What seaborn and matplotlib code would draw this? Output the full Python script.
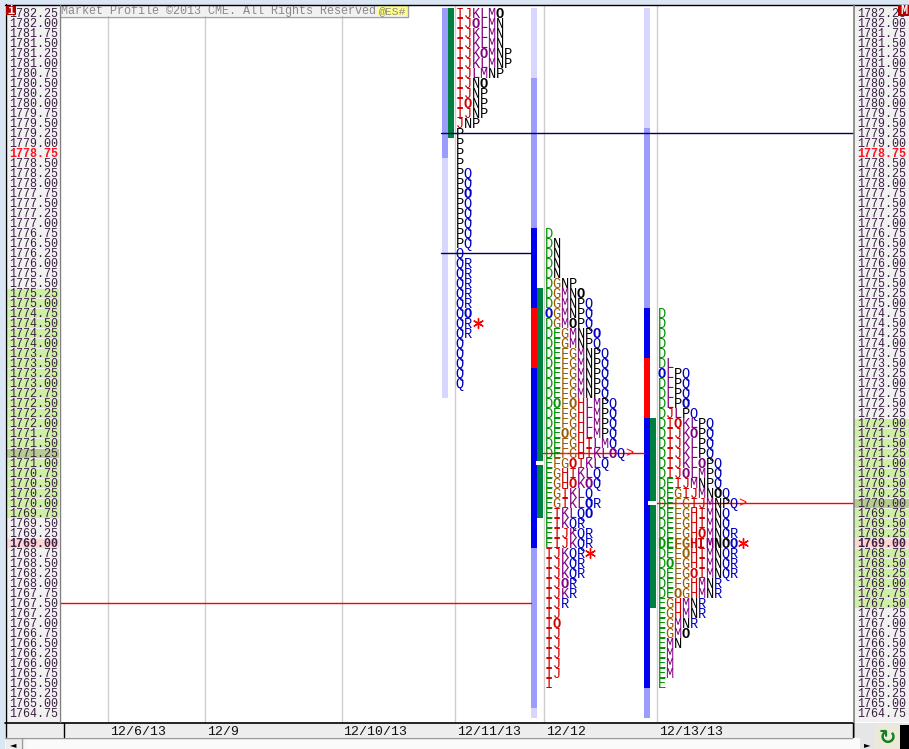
import pandas as pd
import matplotlib
matplotlib.use("Agg")
import matplotlib.pyplot as plt
from matplotlib.patches import Rectangle
import seaborn as sns

# lowercase letter = open ring ("O") drawn in the colour of that period
top_1211 = 1782.25
rows_1211 = ["IJKLMn", "IJkLMN", "IJKLMN", "IJKLMN", "IJKlMNP", "IJKLMNP", "IJLMNP", "IJNn", "IJNP",
             "IjNP", "IJNP", "JNP", "P", "P", "P", "P", "PQ", "PQ", "Pq", "PQ", "PQ", "PQ", "PQ", "PQ",
             "Q", "QR", "QR", "QR", "QR", "QR", "Qq", "QR", "QR", "Q", "Q", "Q", "Q", "Q"]

top_1212 = 1776.75
rows_1212 = ["D", "DN", "DN", "DN", "DN", "DGNP", "DGMNn", "DGMNPQ", "qGMNPQ", "DGMnPQ", "DEGMNPq",
             "DEGMNPQ", "DEFGMNPQ", "DEFGMNPQ", "DEFGMNPQ", "DEFGMNPQ", "DEFGMNPQ", "DeFgHLMPQ",
             "DEFGHLMPQ", "DEFGHLMPQ", "DEgGHLMPQ", "DEFGHILMQ", "DEFGHIKLmQ", "EFGiIKLQ", "EGHIKLQ",
             "EGHiKlQ", "EGIKLQ", "EGIKLqR", "EIKLQq", "EIKQR", "EIJKQR", "EIJKQR", "IJKQR", "IJKQR",
             "IJKQR", "IJkR", "IJKR", "IJR", "IJ", "Ij", "IJ", "IJ", "IJ", "IJ", "IJ", "I"]

top_1213 = 1774.75
rows_1213 = ["D", "D", "D", "D", "D", "DL", "qLPQ", "DLPQ", "DLPQ", "DLPq", "DJLPQ", "DIjKLPQ", "DIJKlPQ",
             "DIJKLPQ", "DIJKLPQ", "DIJKLlPQ", "DIJlLMPQ", "DEIJMNPQ", "DEGIJMNnQ", "DEFGIJMNPQ",
             "DEFGHIMNQ", "DEFGHIMNQ", "DEFGHiMNQR", "DEFGHIMNnq", "DEFgHIMNQR", "DeFGHIMNQR",
             "DEFGiIMNQR", "DEFGHMNR", "DEgGHMNR", "EGHMNR", "EGHMNR", "EGMNR", "EGMn", "EMN", "EM",
             "EM", "EM", "E"]

period_colors = {"D": "#009000", "E": "#009000", "F": "#9a5a00", "G": "#9a5a00", "H": "#d00000",
                 "I": "#d00000", "J": "#d00000", "K": "#800080", "L": "#800080", "M": "#800080",
                 "N": "#000000", "O": "#000000", "P": "#000000", "Q": "#0000c0", "R": "#0000c0"}

# range bars: price edges, top to bottom
LAV, MID, BLUE, RED, GREEN = "#d6d6ff", "#9c9cff", "#0000f0", "#ff0000", "#008040"
bar_1211_edges = [1782.375, 1778.625, 1772.625]
bar_1211_cols = [MID, LAV]
bar_1212_edges = [1782.375, 1780.625, 1776.875, 1774.875, 1773.375, 1768.875, 1764.875, 1764.625]
bar_1212_cols = [LAV, MID, BLUE, RED, BLUE, MID, LAV]
bar_1213_edges = [1782.375, 1779.375, 1774.875, 1773.625, 1772.125, 1765.375, 1764.625]
bar_1213_cols = [LAV, MID, BLUE, RED, BLUE, MID]
green_1211 = [1782.375, 1779.125]
green_1212 = [1775.375, 1769.625]
green_1213 = [1772.125, 1767.375]

poc_prices = [1771.00, 1770.00]
star_prices = [1774.50, 1768.75, 1769.00]

date_labels = ["12/6/13", "12/9", "12/10/13", "12/11/13", "12/12", "12/13/13"]
date_pos = [110, 207, 343, 457, 546, 659]
grid_pos = [107.5, 204.5, 341.5, 455, 544, 656.5]

prices = [1782.25 - 0.25 * i for i in range(71)]
left_value_area = (1769.75, 1775.25)
right_value_area = (1767.50, 1772.00)

PX = 0.025  # price per pixel


def px_y(y):
    return 1782.25 - (y - 13) * PX


sns.set_theme(style="white")
plt.rcParams["font.family"] = ["Liberation Mono", "DejaVu Sans Mono", "DejaVu Sans"]

fig = plt.figure(figsize=(9.09, 7.49), dpi=100, facecolor="white")
ax = fig.add_axes([0, 0, 1, 1])
ax.set_xlim(0, 909)
ax.set_ylim(px_y(749), px_y(0))
ax.axis("off")


def box(x0, x1, p_top, p_bot, color, z=1, **kw):
    ax.add_patch(Rectangle((x0, p_bot), x1 - x0, p_top - p_bot, fc=color, ec="none", zorder=z, **kw))


# window frame
box(0, 909, px_y(0), px_y(5), "#dbe6f4")
box(0, 5, px_y(0), px_y(749), "#dbe6f4")
box(6, 59, px_y(5), px_y(722), "#f1f1f1")
box(854, 909, px_y(5), px_y(722), "#f1f1f1")
box(5, 852, px_y(723), px_y(737), "#ededed")
box(5, 909, px_y(738), px_y(749), "#f6f6f6")
box(852, 909, px_y(723), px_y(749), "#e6e6e6")
ax.plot([5, 909], [px_y(4.5)] * 2, color="black", lw=1, zorder=6)
ax.plot([5.5, 5.5], [px_y(4), px_y(737)], color="black", lw=1, zorder=6)
ax.plot([5, 853], [px_y(722.5)] * 2, color="black", lw=1.2, zorder=6)
ax.plot([59.5, 59.5], [px_y(5), px_y(722)], color="#808080", lw=1, zorder=6)
ax.plot([853.5, 853.5], [px_y(5), px_y(737)], color="#808080", lw=1.2, zorder=6)
ax.plot([5, 852], [px_y(737.5)] * 2, color="#999999", lw=1, zorder=6)
ax.plot([63.5, 63.5], [px_y(723), px_y(737)], color="black", lw=1, zorder=6)
ax.plot([852.5, 852.5], [px_y(723), px_y(737)], color="black", lw=1, zorder=6)

# grid
for gx in grid_pos:
    ax.plot([gx, gx], [px_y(5), px_y(722)], color="#cfcfcf", lw=1, zorder=1)

# price ladders
for p in prices:
    for x0, x1, tx, area, dark in [(6, 59, 9, left_value_area, 1771.25), (854, 909, 857, right_value_area, 1770.00)]:
        if p == 1769.00:
            box(x0, x1, p + 0.1, p - 0.125, "#ffd4d4", z=2)
        elif p == dark:
            box(x0, x1, p + 0.1, p - 0.125, "#b4cc90", z=2)
        elif area[0] <= p <= area[1]:
            box(x0, x1, p + 0.1, p - 0.125, "#cdf0a4", z=2)
        special = p in (1778.75, 1769.00)
        color = "#ff1020" if p == 1778.75 else "#3a2040"
        ax.text(tx, p - 0.105, f"{p:.2f}", fontsize=8.4, ha="left", va="baseline", color=color,
                fontweight="bold" if special else "normal", zorder=5)

# header
box(60, 378, px_y(5), px_y(16), "#f1f1f1", z=3)
box(378, 408, px_y(5), px_y(16), "#ffff88", z=3)
ax.plot([60, 408, 408], [px_y(16.5), px_y(16.5), px_y(5)], color="#a0a0a0", lw=1, zorder=4)
ax.text(61, px_y(14), "Market Profile ©2013 CME. All Rights Reserved", fontsize=8.45, color="#8a8a8a",
        ha="left", va="baseline", zorder=5)
ax.text(379, px_y(14), "@ES#", fontsize=8.2, color="#8a8a8a", ha="left", va="baseline", zorder=5)
box(6, 16, px_y(6), px_y(15), "#b00000", z=6)
ax.text(11, px_y(14), "i", fontsize=8.5, color="white", ha="center", va="baseline", fontweight="bold", zorder=7)
box(898, 909, px_y(5), px_y(16), "#b00000", z=6)
ax.text(903.5, px_y(14.5), "M", fontsize=8.5, color="white", ha="center", va="baseline", fontweight="bold", zorder=7)

# date labels
for lab, dx in zip(date_labels, date_pos):
    ax.text(dx, px_y(735), lab, fontsize=9.5, color="#111111", ha="left", va="baseline", zorder=5)

# range bars
for bx, edges, cols in [(442, bar_1211_edges, bar_1211_cols), (531, bar_1212_edges, bar_1212_cols),
                        (644, bar_1213_edges, bar_1213_cols)]:
    for (p0, p1), col in zip(zip(edges[:-1], edges[1:]), cols):
        box(bx, bx + 6, p0, p1, col, z=3)
for bx, (p0, p1) in [(448, green_1211), (537, green_1212), (650, green_1213)]:
    box(bx, bx + 6, p0, p1, GREEN, z=3)
for bx, p in [(536, poc_prices[0]), (648, poc_prices[1])]:
    box(bx, bx + 7.5, p + 0.05, p - 0.05, "white", z=4)

# letters
for x0, top, rows, bold_row in [(456, top_1211, rows_1211, None), (545, top_1212, rows_1212, None),
                                (658, top_1213, rows_1213, 1769.00)]:
    for r, row in enumerate(rows):
        p = top - 0.25 * r
        for c, ch in enumerate(row):
            ring = ch.islower()
            ax.text(x0 + c * 8 - 0.5, p - 0.115, "O" if ring else ch, fontsize=9.8, ha="left", va="baseline",
                    color=period_colors[ch.upper()], zorder=5,
                    fontweight="bold" if ring or p == bold_row else "normal")

# level lines
levels = pd.DataFrame({
    "x": [441, 853, 441, 531, 60, 531, 543, 644, 657, 853],
    "price": [1779.25, 1779.25, 1776.25, 1776.25, 1767.50, 1767.50, 1771.25, 1771.25, 1770.00, 1770.00],
    "level": ["a", "a", "b", "b", "c", "c", "d", "d", "e", "e"],
})
level_colors = {"a": "#000060", "b": "#000060", "c": "#ff0000", "d": "#ff0000", "e": "#ff0000"}
sns.lineplot(data=levels, x="x", y="price", hue="level", palette=level_colors, estimator=None, sort=False,
             lw=1, legend=False, ax=ax, zorder=4.5)
ax.set_xlim(0, 909)
ax.set_ylim(px_y(749), px_y(0))
ax.text(625.5, 1771.25 - 0.115, ">", color="red", fontsize=9.8, ha="left", va="baseline", zorder=6)
ax.text(738.5, 1770.00 - 0.115, ">", color="red", fontsize=9.8, ha="left", va="baseline", zorder=6)

# closing stars
sns.scatterplot(x=[478, 590, 743], y=star_prices, marker=(6, 2, 0), color="#ff0000", s=50, linewidth=1,
                legend=False, ax=ax, zorder=6)
ax.axis("off")

# scroll bar and refresh button
box(6, 21, px_y(738), px_y(749), "#ededed", z=3)
ax.plot([21.5, 21.5], [px_y(738), px_y(749)], color="#999999", lw=1, zorder=4)
ax.text(13, px_y(747), "◄", fontsize=6, color="black", ha="center", va="baseline", family="DejaVu Sans", zorder=5)
box(27, 860, px_y(738), px_y(749), "#fafafa", z=2)
ax.text(867, px_y(747), "►", fontsize=6, color="black", ha="center", va="baseline", family="DejaVu Sans", zorder=5)
box(875, 900, px_y(725), px_y(749), "#ece9d8", z=5)
ax.text(887.5, px_y(744), "↻", fontsize=15, color="#108020", ha="center", va="baseline",
        family="DejaVu Sans", fontweight="bold", zorder=6)
box(900, 909, px_y(725), px_y(749), "black", z=5)

fig.savefig("out.png", dpi=100)
